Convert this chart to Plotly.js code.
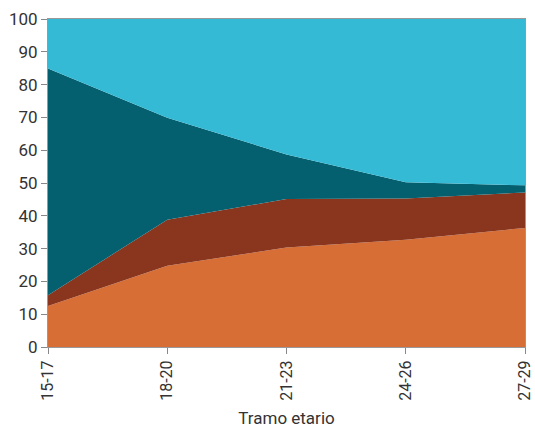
<!DOCTYPE html>
<html>
<head>
<meta charset="utf-8">
<script src="https://cdn.plot.ly/plotly-3.0.1.min.js"></script>
<style>html,body{margin:0;padding:0;background:#fff;}#chart{width:535px;height:430px;}</style>
</head>
<body>
<div id="chart"></div>
<script>
var categories = ["15-17", "18-20", "21-23", "24-26", "27-29"];
var serieA = [12.5, 24.8, 30.3, 32.7, 36.3];
var serieB = [3.3, 14.0, 14.8, 12.6, 10.8];
var serieC = [69.1, 31.1, 13.6, 4.9, 2.2];
var serieD = [15.1, 30.1, 41.3, 49.8, 50.7];
var yTicks = [0, 10, 20, 30, 40, 50, 60, 70, 80, 90, 100];

var colors = ["#D66E35", "#8A361F", "#04606F", "#35BAD6"];
var series = [serieA, serieB, serieC, serieD];
var traces = series.map(function (vals, i) {
  return {
    x: categories, y: vals, type: "scatter", mode: "lines",
    stackgroup: "one", line: {width: 0, color: colors[i]},
    fillcolor: colors[i], hoverinfo: "skip", showlegend: false
  };
});

var fam = "Roboto, sans-serif";
var layout = {
  width: 535, height: 430,
  margin: {l: 48, r: 10, t: 19, b: 83},
  paper_bgcolor: "#fff", plot_bgcolor: "#fff",
  font: {family: fam, color: "#333", size: 17},
  showlegend: false,
  xaxis: {
    type: "category", range: [0, 4], tickangle: -90,
    ticks: "outside", ticklen: 6, tickcolor: "#888",
    showline: true, linecolor: "#999", linewidth: 1, mirror: true,
    showgrid: false, zeroline: false,
    tickfont: {family: fam, size: 16, color: "#333"},
    title: {text: "Tramo etario", font: {family: fam, size: 17, color: "#333"}, standoff: 12}
  },
  yaxis: {
    range: [0, 100], tickvals: yTicks, ticktext: yTicks.map(String),
    ticks: "outside", ticklen: 6, tickcolor: "#888",
    showline: true, linecolor: "#999", linewidth: 1, mirror: true,
    showgrid: false, zeroline: false,
    tickfont: {family: fam, size: 17, color: "#333"}
  }
};
Plotly.newPlot("chart", traces, layout, {displayModeBar: false, staticPlot: true});
</script>
</body>
</html>
